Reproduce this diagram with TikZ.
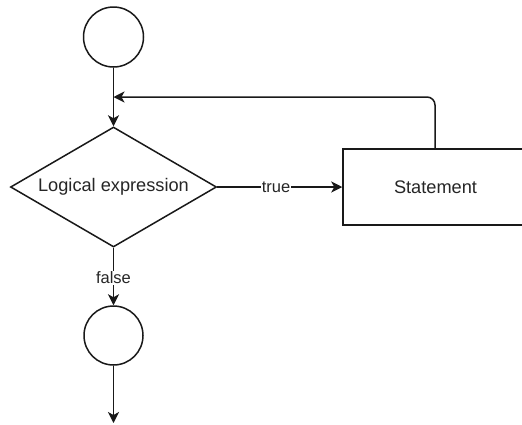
\documentclass[tikz,border=0pt]{standalone}
\usepackage{fontspec}
\setmainfont{Liberation Sans}
\usetikzlibrary{shapes.geometric,arrows.meta}
\begin{document}
\begin{tikzpicture}[x=1pt,y=-1pt,
  every node/.style={font=\fontsize{18.2}{21}\selectfont, text=black!85},
  shp/.style={draw=black!90, line width=1.5pt, fill=white},
  arr/.style={draw=black!90, line width=1.5pt, -{Stealth[length=11pt,width=11pt,inset=3pt]}},
  lbl/.style={fill=white, inner sep=1pt, font=\fontsize{16.5}{19}\selectfont}]
\useasboundingbox (0,0) rectangle (522,424);
\node[shp, circle, minimum size=60pt, inner sep=0pt] (c1) at (113.5,37) {};
\node[shp, diamond, shape aspect=1.717, minimum width=206pt, minimum height=120pt, inner sep=0pt] (d) at (113.5,187) {};
\node (dt) at (113.5,187) {Logical expression};
\node[shp, rectangle, minimum width=184pt, minimum height=76pt, inner sep=0pt] (s) at (435,187) {};
\node (st) at (435.5,187) {Statement};
\node[shp, circle, minimum size=59pt, inner sep=0pt] (c2) at (113.5,335.5) {};
\coordinate (j) at (113.5,97);
\coordinate (e) at (113.5,423);
\draw[arr] (c1.south) -- (d.north);
\draw[arr, rounded corners=8pt] (s.north) |- (j);
\draw[arr] (d.east) -- node[lbl, pos=0.47] {true} (s.west);
\draw[arr] (d.south) -- node[lbl, pos=0.52] {false} (c2.north);
\draw[arr] (c2.south) -- (e);
\end{tikzpicture}
\end{document}
